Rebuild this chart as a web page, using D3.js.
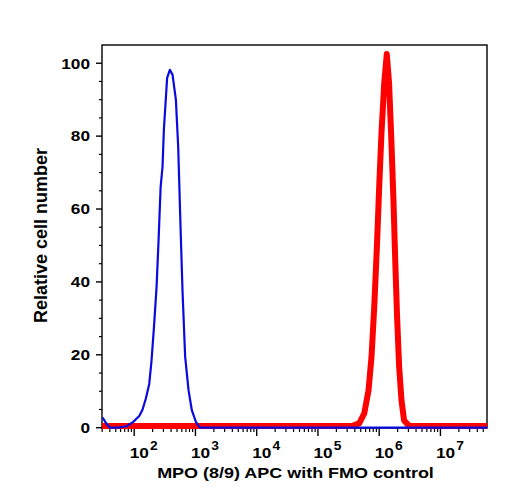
<!DOCTYPE html>
<html>
<head>
<meta charset="utf-8">
<script src="https://cdn.jsdelivr.net/npm/d3@7"></script>
<style>
  html, body { margin: 0; padding: 0; background: #fff; }
  svg { display: block; }
  text { font-family: "Liberation Sans", Arial, Helvetica, sans-serif; font-weight: bold; fill: #000; }
</style>
</head>
<body>
<div id="chart"></div>
<script>
// ---- data ----
const blueX = [30.5, 35.5, 40.2, 54.8, 75.2, 96.4, 121, 137, 155, 176, 192, 209, 232, 250, 270, 290, 305, 345, 382, 423, 479, 523, 571, 617, 679, 771, 873, 1016, 1180, 5.8e7];
const blueY = [2.8, 1.0, 0, 0, 0.4, 1.6, 3.2, 5, 8, 12, 18.5, 27, 38.7, 51.5, 66, 71.6, 81.7, 96, 98.2, 96.8, 90, 77, 55, 36.9, 19.5, 10.3, 4.8, 1.6, 0, 0];
const redX = [29.8, 3.67e5, 4.72e5, 5.71e5, 6.70e5, 7.50e5, 8.30e5, 9.18e5, 1.0e6, 1.09e6, 1.21e6, 1.33e6, 1.45e6, 1.58e6, 1.71e6, 1.82e6, 1.96e6, 2.12e6, 2.31e6, 2.55e6, 3.08e6, 5.8e7];
const redY = [0.5, 0.5, 1.2, 3.9, 10.3, 19.5, 33, 49.7, 66, 80.8, 94.6, 102.5, 94.6, 79, 62.5, 47, 30.4, 16.7, 7.6, 2, 0.5, 0.5];
const yTicks = [0, 20, 40, 60, 80, 100];
const xTickExponents = [2, 3, 4, 5, 6, 7];
const xTitle = "MPO (8/9) APC with FMO control";
const yTitle = "Relative cell number";

// ---- layout ----
const W = 508, H = 500;
const mLeft = 102, mRight = 487, mTop = 45, mBottom = 428;
const SX = 1.15; // horizontal text stretch seen in reference

const svg = d3.select("#chart").append("svg").attr("width", W).attr("height", H);

const x = d3.scaleLog().domain([29.8, 5.76e7]).range([mLeft, mRight]);
const y = d3.scaleLinear().domain([-0.08, 105.0]).range([mBottom, mTop]);

// frame
svg.append("rect")
  .attr("x", mLeft).attr("y", mTop)
  .attr("width", mRight - mLeft).attr("height", mBottom - mTop)
  .attr("fill", "none").attr("stroke", "#000").attr("stroke-width", 1.4);

// y ticks
const yMinor = d3.range(5, 101, 5).filter(v => v % 20 !== 0);
svg.append("g").selectAll("line").data(yMinor).join("line")
  .attr("x1", mLeft - 3).attr("x2", mLeft)
  .attr("y1", d => y(d)).attr("y2", d => y(d))
  .attr("stroke", "#000").attr("stroke-width", 1.2);
svg.append("g").selectAll("line").data(yTicks).join("line")
  .attr("x1", mLeft - 6).attr("x2", mLeft)
  .attr("y1", d => y(d)).attr("y2", d => y(d))
  .attr("stroke", "#000").attr("stroke-width", 1.4);
svg.append("g").selectAll("text").data(yTicks).join("text")
  .attr("transform", d => `translate(90,${y(d) + 5.3}) scale(${SX},1)`)
  .attr("text-anchor", "end")
  .attr("font-size", 15)
  .text(d => d);

// x ticks
const xMinor = [];
for (let e = 1; e <= 7; e++) for (let k = 2; k <= 9; k++) {
  const v = k * Math.pow(10, e);
  if (v >= x.domain()[0] && v <= x.domain()[1]) xMinor.push(v);
}
svg.append("g").selectAll("line").data(xMinor).join("line")
  .attr("x1", d => x(d)).attr("x2", d => x(d))
  .attr("y1", mBottom).attr("y2", mBottom + 4)
  .attr("stroke", "#000").attr("stroke-width", 1.2);
svg.append("g").selectAll("line").data(xTickExponents).join("line")
  .attr("x1", d => x(Math.pow(10, d))).attr("x2", d => x(Math.pow(10, d)))
  .attr("y1", mBottom).attr("y2", mBottom + 8)
  .attr("stroke", "#000").attr("stroke-width", 1.4);
const xl = svg.append("g").selectAll("text").data(xTickExponents).join("text")
  .attr("transform", d => `translate(${x(Math.pow(10, d)) - 4.5},458) scale(${SX},1)`)
  .attr("text-anchor", "start")
  .attr("font-size", 15);
xl.append("tspan").text("10");
xl.append("tspan").attr("dx", 1).attr("dy", -7.8).attr("font-size", 12).text(d => d);

// curves
const line = d3.line().x(d => x(d[0])).y(d => y(d[1]));
svg.append("path")
  .datum(redX.map((v, i) => [v, redY[i]]))
  .attr("d", line)
  .attr("fill", "none").attr("stroke", "#ff0000").attr("stroke-width", 6)
  .attr("stroke-linejoin", "round");
svg.append("path")
  .datum(blueX.map((v, i) => [v, blueY[i]]))
  .attr("d", line)
  .attr("fill", "none").attr("stroke", "#0a0ae0").attr("stroke-width", 2.2)
  .attr("stroke-linejoin", "round");

// titles
svg.append("text")
  .attr("transform", `translate(295.5,477.5) scale(1.16,1)`)
  .attr("text-anchor", "middle")
  .attr("font-size", 15.5)
  .text(xTitle);
const yt = svg.append("text")
  .attr("text-anchor", "middle")
  .attr("font-size", 16)
  .text(yTitle);
const ytw = yt.node().getComputedTextLength();
yt.attr("transform", `translate(46.5,235.5) scale(1.15,1) rotate(-90) scale(${175 / ytw},1)`);
</script>
</body>
</html>
